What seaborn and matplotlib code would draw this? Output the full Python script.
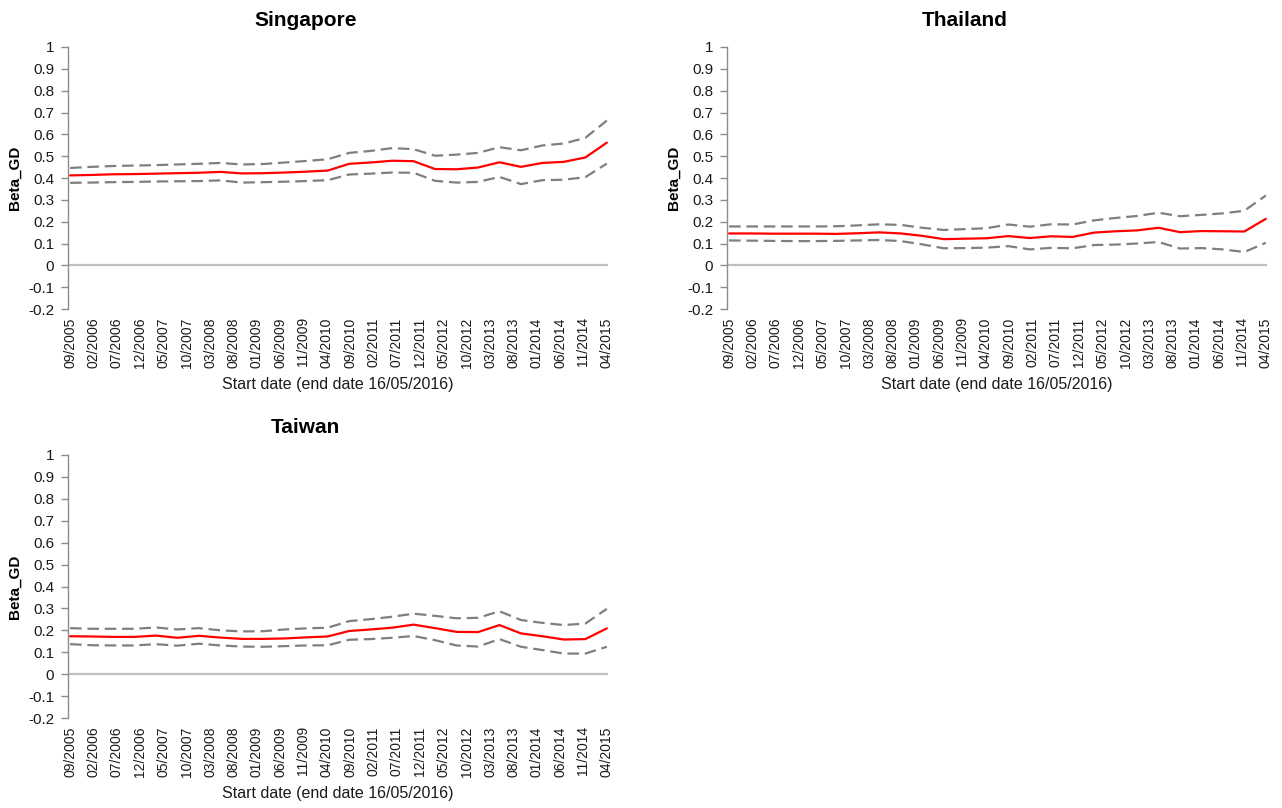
import numpy as np
import pandas as pd
import matplotlib
matplotlib.use("Agg")
import matplotlib.pyplot as plt
import seaborn as sns

# Rolling-window start dates: 26 evenly spaced windows from 09/2005 to 04/2015
tick_labels = ["09/2005", "02/2006", "07/2006", "12/2006", "05/2007", "10/2007",
               "03/2008", "08/2008", "01/2009", "06/2009", "11/2009", "04/2010",
               "09/2010", "02/2011", "07/2011", "12/2011", "05/2012", "10/2012",
               "03/2013", "08/2013", "01/2014", "06/2014", "11/2014", "04/2015"]

singapore_beta = [0.412, 0.414, 0.417, 0.418, 0.420, 0.422, 0.424, 0.428, 0.421, 0.422,
                  0.425, 0.429, 0.434, 0.465, 0.471, 0.479, 0.477, 0.441, 0.440, 0.448,
                  0.472, 0.451, 0.469, 0.474, 0.494, 0.562]
singapore_upper = [0.446, 0.451, 0.455, 0.457, 0.459, 0.462, 0.465, 0.469, 0.462, 0.464,
                   0.471, 0.478, 0.486, 0.515, 0.524, 0.537, 0.532, 0.502, 0.507, 0.515,
                   0.541, 0.527, 0.549, 0.558, 0.584, 0.663]
singapore_lower = [0.378, 0.379, 0.381, 0.382, 0.384, 0.385, 0.386, 0.389, 0.379, 0.381,
                   0.383, 0.386, 0.390, 0.416, 0.420, 0.425, 0.424, 0.387, 0.379, 0.382,
                   0.405, 0.372, 0.390, 0.392, 0.404, 0.466]

thailand_beta = [0.146, 0.146, 0.145, 0.145, 0.145, 0.144, 0.147, 0.151, 0.146, 0.135,
                 0.120, 0.122, 0.124, 0.134, 0.125, 0.133, 0.130, 0.150, 0.156, 0.160,
                 0.172, 0.152, 0.157, 0.156, 0.155, 0.213]
thailand_upper = [0.178, 0.178, 0.178, 0.178, 0.178, 0.179, 0.183, 0.188, 0.185, 0.172,
                  0.162, 0.166, 0.170, 0.187, 0.177, 0.188, 0.187, 0.206, 0.217, 0.226,
                  0.241, 0.225, 0.231, 0.238, 0.250, 0.320]
thailand_lower = [0.114, 0.113, 0.112, 0.111, 0.111, 0.112, 0.114, 0.116, 0.111, 0.096,
                  0.078, 0.079, 0.081, 0.088, 0.073, 0.080, 0.078, 0.093, 0.095, 0.100,
                  0.107, 0.077, 0.079, 0.073, 0.061, 0.103]

taiwan_beta = [0.173, 0.172, 0.170, 0.170, 0.176, 0.166, 0.175, 0.167, 0.161, 0.161,
               0.163, 0.168, 0.172, 0.197, 0.204, 0.212, 0.226, 0.210, 0.193, 0.192,
               0.224, 0.186, 0.173, 0.158, 0.160, 0.209]
taiwan_upper = [0.210, 0.207, 0.207, 0.207, 0.213, 0.204, 0.210, 0.200, 0.195, 0.196,
                0.204, 0.209, 0.212, 0.242, 0.251, 0.262, 0.276, 0.266, 0.255, 0.257,
                0.287, 0.247, 0.234, 0.224, 0.231, 0.298]
taiwan_lower = [0.137, 0.132, 0.131, 0.131, 0.137, 0.130, 0.139, 0.131, 0.126, 0.125,
                0.128, 0.131, 0.132, 0.157, 0.160, 0.166, 0.174, 0.155, 0.131, 0.126,
                0.160, 0.125, 0.110, 0.094, 0.094, 0.125]

# months since 09/2005
label_months = np.arange(len(tick_labels)) * 5
window_months = np.linspace(0, label_months[-1], len(singapore_beta))

sns.set_theme(style="white")
plt.rcParams["font.family"] = ["Liberation Sans", "DejaVu Sans"]

W, H = 1282, 808
fig = plt.figure(figsize=(W / 100, H / 100), dpi=100)

def axes_rect(left, top, right, bottom):
    return [left / W, 1 - bottom / H, (right - left) / W, (bottom - top) / H]

panels = [
    ("Singapore", singapore_beta, singapore_upper, singapore_lower, axes_rect(68, 47, 608, 309)),
    ("Thailand", thailand_beta, thailand_upper, thailand_lower, axes_rect(727, 47, 1267, 309)),
    ("Taiwan", taiwan_beta, taiwan_upper, taiwan_lower, axes_rect(68, 455, 608, 718)),
]

TEXT = "#1A1A1A"

for name, beta, upper, lower, rect in panels:
    ax = fig.add_axes(rect)
    df = pd.DataFrame({"start": window_months, "beta": beta,
                       "upper": upper, "lower": lower})
    ax.axhline(0, color="#BFBFBF", lw=1.6, zorder=1)
    for col in ("upper", "lower"):
        sns.lineplot(data=df, x="start", y=col, ax=ax, color="#7F7F7F",
                     lw=1.6, linestyle=(0, (5.2, 2.6)), zorder=2)
    sns.lineplot(data=df, x="start", y="beta", ax=ax, color="#FF0000",
                 lw=1.6, zorder=3)

    ax.set_xlim(-0.45, 115.25)
    ax.set_ylim(-0.2, 1.0)
    yt = np.round(np.arange(-0.2, 1.001, 0.1), 1)
    ax.set_yticks(yt)
    ax.set_yticklabels([("%g" % v) for v in yt])
    ax.set_xticks(label_months)
    ax.set_xticklabels(tick_labels, rotation=90)

    for s in ("top", "right", "bottom"):
        ax.spines[s].set_visible(False)
    ax.spines["left"].set_color("#8C8C8C")
    ax.spines["left"].set_linewidth(1.0)
    ax.tick_params(axis="y", which="major", left=True, length=5, width=1.0,
                   color="#8C8C8C", labelsize=11, labelcolor=TEXT, pad=5)
    ax.tick_params(axis="x", which="major", bottom=False, length=0,
                   labelsize=10, labelcolor=TEXT, pad=6)

    ax.set_ylabel("Beta_GD", fontsize=11, fontweight="bold", color="#000000")
    ax.yaxis.set_label_coords(-0.085, 0.5)
    ax.set_xlabel("Start date (end date 16/05/2016)", fontsize=11.5, color=TEXT)
    ax.xaxis.set_label_coords(0.5, -0.26)
    ax.text(0.44, 1.103, name, transform=ax.transAxes, ha="center", va="center",
            fontsize=15, fontweight="bold", color="#000000")
    ax.grid(False)

fig.savefig("out.png", dpi=100)
